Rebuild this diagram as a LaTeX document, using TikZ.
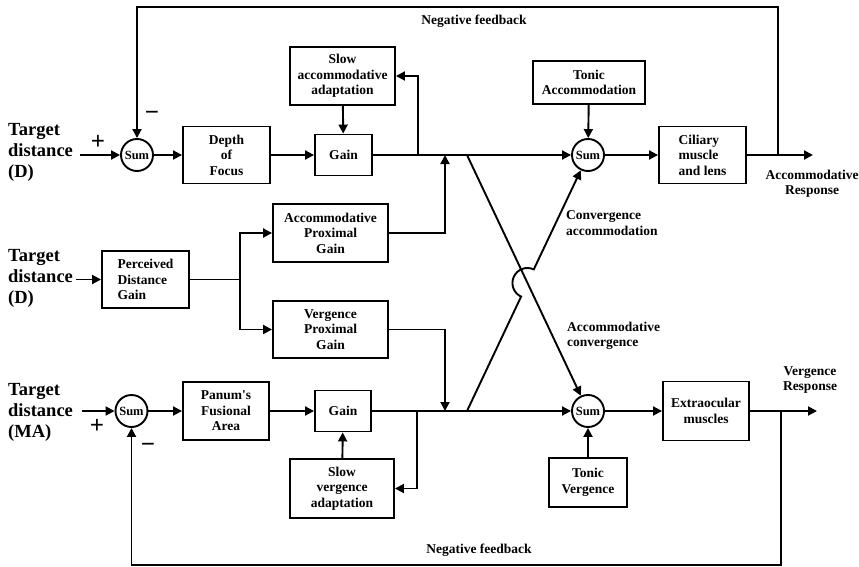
\documentclass[tikz,border=0pt]{standalone}
\usepackage{fontspec}
\setmainfont{Liberation Serif}
\usetikzlibrary{arrows.meta}
\newcommand{\bxfont}{\fontsize{13.5}{15.5}\selectfont\bfseries}
\newcommand{\tgfont}{\fontsize{18.5}{21}\selectfont\bfseries}
\newcommand{\smfont}{\fontsize{12.5}{14}\selectfont\bfseries}
\tikzset{
  blockdiag/.style={x=1pt, y=-1pt},
  % a block of the model
  blk/.style={draw=black, line width=1.9pt, rectangle, align=center,
              inner sep=1mm, font=\bxfont},
  % a summing junction
  sumnode/.style={draw=black, line width=1.9pt, circle, minimum size=32pt,
                  inner sep=0pt, font=\smfont},
  % a signal, with its arrow
  sig/.style={draw=black, line width=1.9pt, -{Triangle[length=9pt,width=9pt]}},
  % a plain stretch of line, up to a branch point
  wire/.style={draw=black, line width=1.9pt},
  % the name of an input, on the far left
  tlabel/.style={font=\tgfont, align=left, anchor=west, inner sep=0pt},
  % the name of a signal
  llabel/.style={font=\bxfont, align=left, inner sep=0pt},
  % sign at a summing junction
  sgn/.style={font=\fontsize{25}{25}\selectfont\bfseries, inner sep=0pt},
}
\newcommand{\blk}[7][]{%
  \node[blk, minimum width=#5, minimum height=#6, #1] (#2) at (#3,#4) {#7};%
}
\newcommand{\sm}[3]{\node[sumnode] (#1) at (#2,#3) {Sum};}
\newcommand{\sg}[2]{\draw[sig] (#1) -- (#2);}

\begin{document}
\begin{tikzpicture}[blockdiag]
  \useasboundingbox (0,0) rectangle (859,567);
  % -------------------------------------------------------------------------
  % accommodation loop (top row)
  % -------------------------------------------------------------------------
  \node[tlabel] (tdA) at (8,152) {Target\\distance\\(D)};
  \sm{sumA1}{137}{155}
  \blk{dof}{226.5}{155}{87pt}{57pt}{Depth\\of\\Focus}
  \blk{gainA}{343.5}{155}{57pt}{41pt}{Gain}
  \blk{sad}{342.5}{76}{105pt}{58pt}{Slow\\accommodative\\adaptation}
  \blk{tonA}{589}{82.5}{112pt}{43pt}{Tonic\\Accommodation}
  \sm{sumA2}{588}{155}
  \blk[align=left]{cil}{702.5}{155}{87pt}{57pt}{Ciliary\\muscle\\and lens}
  \node[sgn] (plA) at (98,142) {+};
  \node[sgn] (miA) at (152,116) {−};
  \coordinate (inA) at (80,155);
  \coordinate (jA) at (418,155);
  \coordinate (pA) at (445,155);
  \coordinate (cA) at (467,155);
  \coordinate (fA) at (778,155);
  \coordinate (fbA) at (778,7);
  \coordinate (outA) at (813,155);

  % -------------------------------------------------------------------------
  % proximal part (middle row)
  % -------------------------------------------------------------------------
  \node[tlabel] (tdP) at (8,278) {Target\\distance\\(D)};
  \blk[align=left]{pdg}{145.5}{279.5}{87pt}{57pt}{Perceived\\Distance\\Gain}
  \blk{apg}{330.5}{233}{115pt}{58pt}{Accommodative\\Proximal\\Gain}
  \blk{vpg}{330.5}{329.5}{115pt}{57pt}{Vergence\\Proximal\\Gain}
  \coordinate (inP) at (76,279.5);
  \coordinate (jP) at (240,279.5);

  % -------------------------------------------------------------------------
  % vergence loop (bottom row)
  % -------------------------------------------------------------------------
  \node[tlabel] (tdV) at (8,412) {Target\\distance\\(MA)};
  \sm{sumV1}{131.5}{411}
  \blk{pfa}{226}{411}{86pt}{58pt}{Panum\textquotesingle s\\Fusional\\Area}
  \blk{gainV}{343}{411}{56pt}{41pt}{Gain}
  \blk{svad}{342}{488.5}{104pt}{59pt}{Slow\\vergence\\adaptation}
  \sm{sumV2}{588}{411}
  \blk{tonV}{588}{482.5}{78pt}{49pt}{Tonic\\Vergence}
  \blk{eom}{706}{411}{86pt}{59pt}{Extraocular\\muscles}
  \node[sgn] (plV) at (97,426) {+};
  \node[sgn] (miV) at (148,448) {−};
  \coordinate (inV) at (82,411);
  \coordinate (jV) at (417,411);
  \coordinate (pV) at (445,411);
  \coordinate (cV) at (467,411);
  \coordinate (fV) at (781,411);
  \coordinate (fbV) at (781,565);
  \coordinate (outV) at (817,411);
  % start of the hop over the cross link
  \coordinate (hop) at (521.1,296.6);

  % signal labels
  \node[llabel] (nfA) at (474,21) {Negative feedback};
  \node[llabel] (nfV) at (479,550) {Negative feedback};
  \node[llabel, anchor=west] (cacc) at (566,223) {Convergence\\accommodation};
  \node[llabel, anchor=west] (acon) at (567,336) {Accommodative\\convergence};
  \node[llabel, align=center] (resA) at (812,184) {Accommodative\\Response};
  \node[llabel, align=center] (resV) at (810,380) {Vergence\\Response};

  % top row
  \sg{inA}{sumA1}
  \sg{sumA1}{dof}
  \sg{dof}{gainA}
  \sg{gainA}{sumA2}
  \sg{sumA2}{cil}
  \sg{cil}{outA}
  \sg{sad}{gainA}
  \sg{tonA}{sumA2}
  \draw[sig] (jA) |- (sad.east);
  \draw[sig] (fA) -- (fbA) -| (sumA1.north);

  % middle row
  \sg{inP}{pdg}
  \draw[wire] (pdg.east) -- (jP);
  \draw[sig] (jP) |- (apg.west);
  \draw[sig] (jP) |- (vpg.west);
  \draw[sig] (apg.east) -| (pA);
  \draw[sig] (vpg.east) -| (pV);

  % bottom row
  \sg{inV}{sumV1}
  \sg{sumV1}{pfa}
  \sg{pfa}{gainV}
  \sg{gainV}{sumV2}
  \sg{sumV2}{eom}
  \sg{eom}{outV}
  \sg{svad}{gainV}
  \sg{tonV}{sumV2}
  \draw[sig] (jV) |- (svad.east);
  \draw[sig] (fV) -- (fbV) -| (sumV1.south);

  % cross links
  \sg{cA}{sumV2}
  \draw[sig] (cV) -- (hop) arc[start angle=245, end angle=65, radius=15pt]
    -- (sumA2);
\end{tikzpicture}
\end{document}
